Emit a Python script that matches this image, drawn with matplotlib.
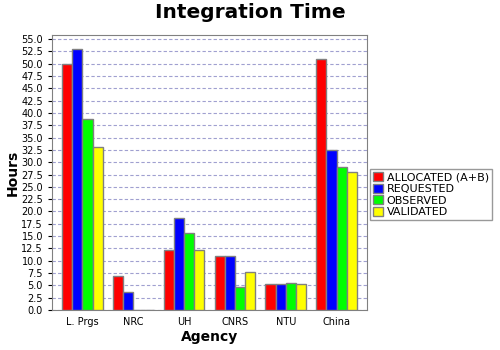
import numpy as np
import matplotlib
matplotlib.use('Agg')
import matplotlib.pyplot as plt

agencies = ['L. Prgs', 'NRC', 'UH', 'CNRS', 'NTU', 'China']
allocated = [50.0, 6.9, 12.2, 11.0, 5.3, 50.9]
requested = [53.0, 3.6, 18.6, 11.0, 5.3, 32.5]
observed = [38.7, 0, 15.6, 4.6, 5.5, 29.0]
validated = [33.1, 0, 12.2, 7.8, 5.3, 28.0]

series = [('ALLOCATED (A+B)', allocated, '#ff0000'),
          ('REQUESTED', requested, '#0000ff'),
          ('OBSERVED', observed, '#00ff00'),
          ('VALIDATED', validated, '#ffff00')]

fig = plt.figure(figsize=(5, 3.5), dpi=100)
ax = fig.add_axes([0.104, 0.114, 0.630, 0.786])

x = np.arange(len(agencies))
w = 0.2
for i, (name, vals, col) in enumerate(series):
    vals = np.array(vals)
    ax.bar(x + (i - 1.5) * w, vals, w, color=col, edgecolor='#808080',
           linewidth=1, label=name, zorder=3)

ax.set_xlim(-0.6, 5.6)
ax.set_ylim(0, 55.8)
ax.set_yticks(np.arange(0, 55.1, 2.5))
ax.set_yticklabels(['%.1f' % v for v in np.arange(0, 55.1, 2.5)])
ax.set_xticks(x)
ax.set_xticklabels(agencies)
ax.tick_params(labelsize=7, length=3, colors='#000000')
ax.tick_params(axis='x', length=0, pad=5)
ax.yaxis.grid(True, color='#a0a0d0', linestyle=(0, (3, 2)), linewidth=0.8, zorder=0)
for s in ax.spines.values():
    s.set_color('#808080')

ax.set_ylabel('Hours', fontsize=10, fontweight='bold', labelpad=1)
ax.set_xlabel('Agency', fontsize=10, fontweight='bold', labelpad=2)
fig.suptitle('Integration Time', fontsize=14.5, fontweight='bold', x=0.5, y=0.99)

leg = ax.legend(loc='center left', bbox_to_anchor=(1.01, 0.42), fontsize=8,
                frameon=True, fancybox=False, edgecolor='#808080',
                handlelength=0.9, handleheight=0.9, handletextpad=0.3,
                labelspacing=0.1, borderpad=0.3, borderaxespad=0)
leg.get_frame().set_linewidth(1)

fig.savefig('out.png', dpi=100)
